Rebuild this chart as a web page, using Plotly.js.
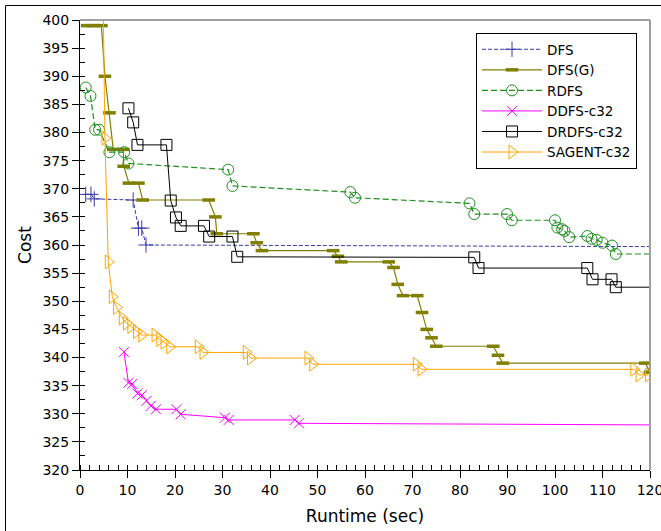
<!DOCTYPE html>
<html>
<head>
<meta charset="utf-8">
<script src="https://cdn.plot.ly/plotly-3.0.1.min.js"></script>
<style>
  html, body { margin: 0; padding: 0; background: #fff; }
  #chart { width: 661px; height: 531px; }
</style>
</head>
<body>
<div id="chart"></div>
<script>
// ---- Data (runtime in sec, cost) ----
const seriesNames = ["DFS", "DFS(G)", "RDFS", "DDFS-c32", "DRDFS-c32", "SAGENT-c32"];

const dfsX = [1.2, 2.3, 3.0, 11.2, 12.3, 13.0, 13.9, 125];
const dfsY = [369, 369, 368.2, 368, 363, 363, 360, 359.7];

const dfsgX = [1.5, 2.8, 4.5, 5.25, 6.2, 7.0, 9.1, 9.2, 10.3, 12.3, 13.2, 27.1, 28.5, 28.8, 36.5, 37.2, 38.3, 53.3, 54.3, 55.0, 65.0, 66.0, 66.9, 68.0, 71.0, 72.0, 73.0, 74.0, 75.0, 87.0, 88.0, 89.0, 119.0, 120.0];
const dfsgY = [399, 399, 399, 390, 383.5, 377, 377, 374, 371, 371, 368, 368, 365, 362, 362, 360.4, 359, 359, 358, 357, 357, 356, 353, 351, 351, 348, 345, 343.5, 342, 342, 340.4, 339, 339, 337.4];

const rdfsX = [1.2, 2.2, 3.2, 4.0, 6.2, 9.3, 10.2, 31.2, 32.1, 56.9, 57.9, 82.0, 83.0, 89.9, 90.9, 100.0, 100.5, 101.5, 102.0, 103.0, 106.8, 107.7, 108.8, 110.0, 112.0, 112.8, 125];
const rdfsY = [388, 386.5, 380.5, 380.5, 376.5, 376.5, 374.5, 373.4, 370.5, 369.4, 368.4, 367.4, 365.5, 365.5, 364.4, 364.4, 363.1, 362.8, 362.5, 361.4, 361.6, 361.1, 360.9, 360.4, 359.9, 358.4, 358.4];

const ddfsX = [9.25, 10.2, 11.0, 12.1, 13.0, 14.0, 14.9, 16.0, 20.3, 21.2, 30.5, 31.3, 45.2, 46.1, 125];
const ddfsY = [341, 335.5, 335.3, 333.6, 333.3, 332.3, 331.4, 330.8, 330.8, 329.9, 329.3, 328.9, 328.9, 328.3, 328.0];

const drdfsX = [10.2, 11.2, 12.1, 18.2, 19.1, 20.2, 21.2, 26.1, 27.2, 32.1, 33.1, 83.0, 83.9, 106.8, 107.9, 111.9, 112.8, 125];
const drdfsY = [384.3, 381.8, 377.8, 377.8, 367.9, 364.9, 363.4, 363.4, 361.5, 361.5, 357.9, 357.8, 355.9, 355.9, 353.9, 353.9, 352.5, 352.5];

const sagentX = [4.9, 5.25, 5.95, 6.8, 7.7, 8.9, 9.8, 10.7, 11.9, 13.0, 15.8, 16.8, 17.7, 18.9, 24.9, 25.9, 35.0, 35.9, 48.0, 49.0, 70.8, 71.8, 116.6, 117.7, 119.7];
const sagentY = [402, 379, 357, 350.8, 348.9, 347, 346.1, 345.5, 344.6, 344, 344, 343.2, 342.7, 341.9, 341.9, 340.9, 340.9, 339.9, 339.9, 338.8, 338.8, 337.9, 337.9, 336.9, 336.9];

const xTitle = "Runtime (sec)";
const yTitle = "Cost";

// ---- Traces ----
const traces = [
  { x: dfsX, y: dfsY, name: seriesNames[0], mode: "lines+markers",
    line: { color: "#3a3aa8", width: 1, dash: "4px,2px" },
    marker: { symbol: "cross-thin", size: 11, color: "#3a3aa8", line: { color: "#3a3aa8", width: 1 } } },
  { x: dfsgX, y: dfsgY, name: seriesNames[1], mode: "lines+markers",
    line: { color: "#808000", width: 1.2 },
    marker: { symbol: "line-ew", size: 9, color: "#808000", line: { color: "#808000", width: 3.5 } } },
  { x: rdfsX, y: rdfsY, name: seriesNames[2], mode: "lines+markers",
    line: { color: "#1f8f1f", width: 1.2, dash: "6px,3px" },
    marker: { symbol: "circle-open", size: 11, color: "#1f8f1f", line: { color: "#1f8f1f", width: 1 } } },
  { x: ddfsX, y: ddfsY, name: seriesNames[3], mode: "lines+markers",
    line: { color: "#ff00ff", width: 1 },
    marker: { symbol: "x-thin", size: 10, color: "#ff00ff", line: { color: "#ff00ff", width: 1 } } },
  { x: drdfsX, y: drdfsY, name: seriesNames[4], mode: "lines+markers",
    line: { color: "#000000", width: 1 },
    marker: { symbol: "square-open", size: 11, color: "#000000", line: { color: "#000000", width: 1 } } },
  { x: sagentX, y: sagentY, name: seriesNames[5], mode: "lines+markers",
    line: { color: "#ffa500", width: 1 },
    marker: { symbol: "triangle-right-open", size: 12, color: "#ffa500", line: { color: "#ffa500", width: 1 } } }
];

// ---- Layout ----
const pxL = 80, pxR = 650, pxT = 20, pxB = 470;
const W = 661, H = 531;
const fx = p => (p - pxL) / (pxR - pxL);
const fy = p => 1 - (p - pxT) / (pxB - pxT);

const layout = {
  width: W, height: H,
  margin: { l: pxL, r: W - pxR, t: pxT, b: H - pxB, pad: 0 },
  paper_bgcolor: "#ffffff", plot_bgcolor: "#ffffff",
  font: { family: "DejaVu Sans", size: 14, color: "#000" },
  showlegend: true,
  legend: {
    x: fx(476), y: fy(33), xanchor: "left", yanchor: "top",
    bgcolor: "#ffffff", bordercolor: "#000000", borderwidth: 1,
    font: { family: "DejaVu Sans", size: 13.5, color: "#000" },
    tracegroupgap: 0, itemwidth: 60
  },
  xaxis: {
    range: [0, 120], dtick: 10, tick0: 0,
    showgrid: false, zeroline: false,
    showline: true, linecolor: "#000", linewidth: 1,
    ticks: "outside", ticklen: 7, tickcolor: "#000", tickwidth: 1,
    minor: { dtick: 2, ticks: "inside", ticklen: 5, tickcolor: "#000", tickwidth: 1, showgrid: false },
    tickfont: { size: 14 },
    ticklabeloverflow: "allow",
    title: { text: xTitle, font: { size: 17 }, standoff: 13 },
    automargin: false
  },
  yaxis: {
    range: [320, 400], dtick: 5, tick0: 320,
    showgrid: false, zeroline: false,
    showline: true, linecolor: "#000", linewidth: 1,
    ticks: "outside", ticklen: 7, tickcolor: "#000", tickwidth: 1,
    minor: { dtick: 2.5, ticks: "inside", ticklen: 5, tickcolor: "#000", tickwidth: 1, showgrid: false },
    tickfont: { size: 14 },
    ticklabeloverflow: "allow",
    title: { text: yTitle, font: { size: 17 }, standoff: 6 },
    automargin: false
  },
  shapes: [
    // grey top & right frame of plot area
    { type: "line", xref: "paper", yref: "paper", x0: 0, x1: 1, y0: 1, y1: 1, line: { color: "#a0a0a0", width: 2 } },
    { type: "line", xref: "paper", yref: "paper", x0: 1, x1: 1, y0: 0, y1: 1, line: { color: "#a0a0a0", width: 2 } },
    // outer figure frame (left & top)
    { type: "line", xref: "paper", yref: "paper", x0: fx(5.5), x1: fx(5.5), y0: fy(5.5), y1: fy(540), line: { color: "#000", width: 1 } },
    { type: "line", xref: "paper", yref: "paper", x0: fx(5.5), x1: fx(670), y0: fy(5.5), y1: fy(5.5), line: { color: "#000", width: 1 } }
  ]
};

Plotly.newPlot("chart", traces, layout, { staticPlot: true, displayModeBar: false });
</script>
</body>
</html>
